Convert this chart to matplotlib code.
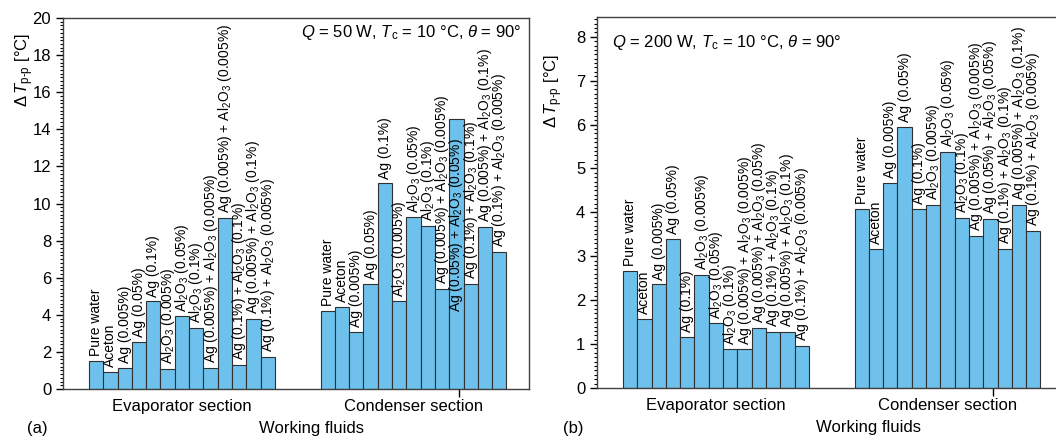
"""Peak-to-peak temperature difference of the working fluids (Q = 50 W and 200 W)."""
import matplotlib.pyplot as plt

plt.rcParams["font.family"] = ["Liberation Sans", "DejaVu Sans"]
plt.rcParams["mathtext.fontset"] = "custom"
plt.rcParams["mathtext.rm"] = "Liberation Sans"
plt.rcParams["mathtext.it"] = "Liberation Sans:italic"
plt.rcParams["mathtext.bf"] = "Liberation Sans:bold"

AL = r"Al$_2$O$_3$"
fluids = [
    "Pure water",
    "Aceton",
    "Ag (0.005%)",
    "Ag (0.05%)",
    "Ag (0.1%)",
    f"{AL} (0.005%)",
    f"{AL} (0.05%)",
    f"{AL} (0.1%)",
    f"Ag (0.005%) + {AL} (0.005%)",
    f"Ag (0.05%) + {AL} (0.05%)",
    f"Ag (0.1%) + {AL} (0.1%)",
    f"Ag (0.005%) + {AL} (0.1%)",
    f"Ag (0.1%) + {AL} (0.005%)",
]
# the 10th label is printed differently in the two evaporator groups
fluids_evap_a = fluids[:9] + [f"Ag (0.005%) + {AL} (0.005%)"] + fluids[10:]
fluids_evap_b = fluids[:9] + [f"Ag (0.005%) + {AL} (0.05%)"] + fluids[10:]

sections = ["Evaporator section", "Condenser section"]

# panel (a): Q = 50 W
evap_50 = [1.52, 0.92, 1.13, 2.53, 4.72, 1.08, 3.91, 3.27, 1.13, 9.23, 1.31, 3.77, 1.72]
cond_50 = [4.22, 4.43, 3.09, 5.67, 11.08, 4.72, 9.25, 8.78, 5.40, 14.56, 5.66, 8.74, 7.40]

# panel (b): Q = 200 W
evap_200 = [2.66, 1.57, 2.36, 3.39, 1.17, 2.58, 1.47, 0.88, 0.88, 1.36, 1.28, 1.28, 0.96]
cond_200 = [4.08, 3.17, 4.67, 5.95, 4.08, 4.16, 5.38, 3.87, 3.47, 3.85, 3.17, 4.16, 3.57]

BAR_COLOR = "#6EC1EC"
EDGE_COLOR = "#303030"
GROUP_OFFSET = 16.2
XLIM = (-2.32, 30.28)


def draw_panel(ax, groups, ylim, major, minor, title, title_pos, title_ha):
    fig = ax.figure
    label_artists = []
    for offset, (values, labels) in zip((0.0, GROUP_OFFSET), groups):
        xs = [offset + i for i in range(len(values))]
        ax.bar(xs, values, width=1.0, color=BAR_COLOR, edgecolor=EDGE_COLOR,
               linewidth=0.8, zorder=2)
        for x, v, lab in zip(xs, values, labels):
            t = ax.annotate(lab, (x, v), xytext=(0, 3.5), textcoords="offset points",
                            rotation=90, ha="center", va="bottom", fontsize=10,
                            zorder=3)
            label_artists.append((t, x, v))

    ax.set_xlim(*XLIM)
    ax.set_ylim(*ylim)

    # labels that would run out of the axes are put inside their bar
    fig.canvas.draw()
    renderer = fig.canvas.get_renderer()
    top_px = ax.get_window_extent(renderer).y1
    for t, x, v in label_artists:
        if t.get_window_extent(renderer).y1 > top_px:
            t.set_va("top")
            t.set_position((0, -14))

    ax.set_yticks(range(0, int(ylim[1]) + 1, major))
    ax.yaxis.set_minor_locator(plt.MultipleLocator(minor))
    ax.tick_params(axis="y", which="major", length=5, width=1, labelsize=12, direction="out")
    ax.tick_params(axis="y", which="minor", length=2.5, width=0.8, direction="out")

    centers = [6.0, GROUP_OFFSET + 6.0]
    ax.set_xticks(centers, sections)
    ax.set_xticks([GROUP_OFFSET + 9.2], minor=True)
    ax.tick_params(axis="x", which="major", length=0, pad=7, labelsize=12)
    ax.tick_params(axis="x", which="minor", length=6, width=1, direction="out")

    for spine in ax.spines.values():
        spine.set_linewidth(1.0)
        spine.set_color("#404040")

    ax.text(title_pos[0], title_pos[1], title, transform=ax.transAxes,
            ha=title_ha, va="baseline", fontsize=12)


fig = plt.figure(figsize=(10.56, 4.41), dpi=100)
ax_a = fig.add_axes([63 / 1056, 52 / 441, 466 / 1056, 371 / 441])
ax_b = fig.add_axes([597 / 1056, 53 / 441, 466 / 1056, 371 / 441])

draw_panel(ax_a, [(evap_50, fluids_evap_a), (cond_50, fluids)], (0, 20), 2, 0.2,
           r"$Q$ = 50 W, $T_\mathrm{c}$ = 10 °C, $\theta$ = 90°", (0.983, 0.949), "right")
draw_panel(ax_b, [(evap_200, fluids_evap_b), (cond_200, fluids)], (0, 8.45), 1, 0.1,
           r"$Q$ = 200 W, $T_\mathrm{c}$ = 10 °C, $\theta$ = 90°", (0.032, 0.919), "left")

ylabel = r"$\Delta\,T_{\mathrm{p}\text{-}\mathrm{p}}$ [°C]"
ax_a.set_ylabel(ylabel, fontsize=12)
ax_a.yaxis.set_label_coords(-0.058, 0.86)
ax_b.set_ylabel(ylabel, fontsize=12)
ax_b.yaxis.set_label_coords(-0.068, 0.80)

ax_a.set_xlabel("Working fluids", fontsize=12)
ax_a.xaxis.set_label_coords(0.534, -0.085)
ax_b.set_xlabel("Working fluids", fontsize=12)
ax_b.xaxis.set_label_coords(0.582, -0.085)

fig.text(37 / 1056, 1 - 428 / 441, "(a)", ha="center", va="center", fontsize=12)
fig.text(573 / 1056, 1 - 428 / 441, "(b)", ha="center", va="center", fontsize=12)

fig.savefig("out.png", dpi=100)
